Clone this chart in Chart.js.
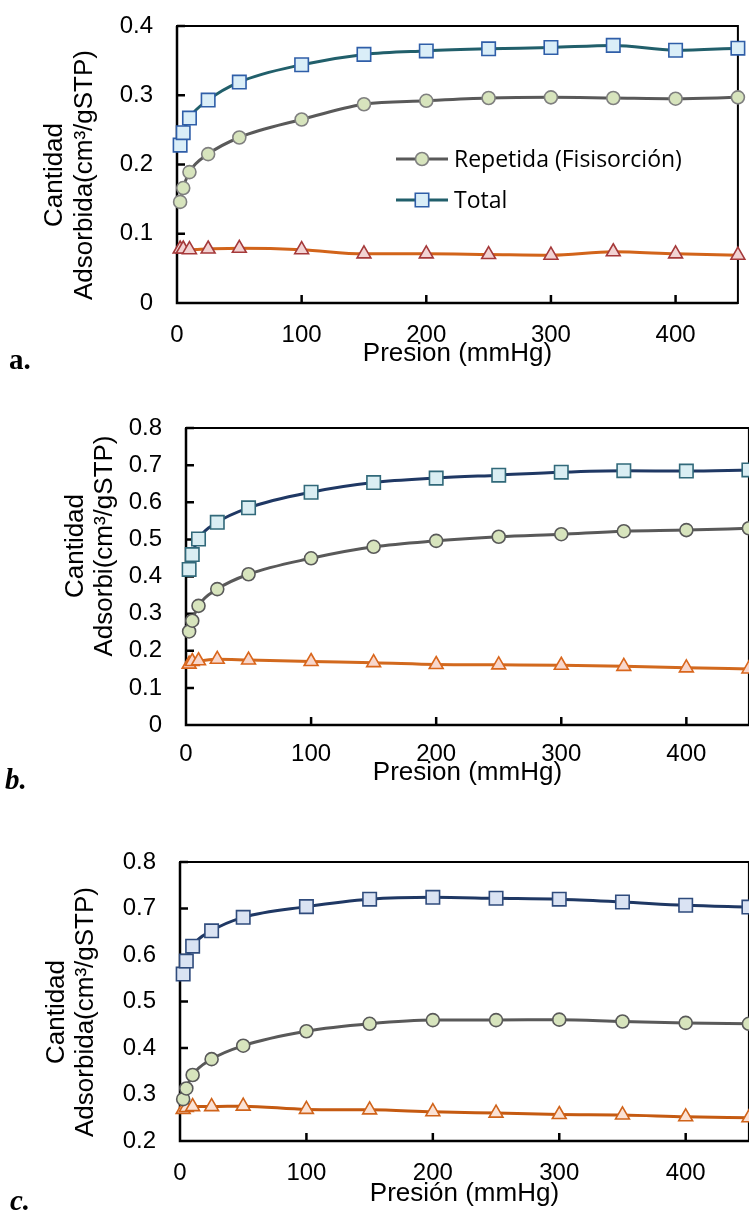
<!DOCTYPE html>
<html>
<head>
<meta charset="utf-8">
<script src="https://cdn.jsdelivr.net/npm/chart.js@4.4.0/dist/chart.umd.min.js"></script>
<style>
  body { margin: 0; background: #fff; overflow: hidden; width: 749px; height: 1213px; position: relative; }
  .panel { position: absolute; left: 0; }
</style>
</head>
<body>
<div class="panel" style="top:0"><canvas id="chartA" width="749" height="380"></canvas></div>
<div class="panel" style="top:390px"><canvas id="chartB" width="760" height="400"></canvas></div>
<div class="panel" style="top:800px"><canvas id="chartC" width="760" height="413"></canvas></div>
<script>
// pressure points (mmHg), same for all three panels
const presion = [2.5, 5, 10, 25, 50, 100, 150, 200, 250, 300, 350, 400, 450];
const xTicks = [0, 100, 200, 300, 400];

// panel a
const repetidaA = [0.146, 0.166, 0.189, 0.215, 0.239, 0.265, 0.287, 0.292, 0.296, 0.297, 0.296, 0.295, 0.297];
const totalA = [0.228, 0.246, 0.267, 0.293, 0.319, 0.344, 0.359, 0.364, 0.367, 0.369, 0.372, 0.365, 0.368];
const quimiA = [0.078, 0.078, 0.077, 0.078, 0.079, 0.077, 0.071, 0.071, 0.070, 0.069, 0.074, 0.071, 0.069];

// panel b
const repetidaB = [0.252, 0.281, 0.321, 0.366, 0.406, 0.449, 0.480, 0.496, 0.507, 0.514, 0.522, 0.525, 0.530];
const totalB = [0.419, 0.459, 0.501, 0.546, 0.585, 0.627, 0.653, 0.665, 0.673, 0.681, 0.685, 0.684, 0.687];
const quimiB = [0.164, 0.171, 0.173, 0.177, 0.175, 0.171, 0.168, 0.163, 0.162, 0.161, 0.158, 0.154, 0.151];

// panel c
const repetidaC = [0.290, 0.313, 0.342, 0.376, 0.405, 0.436, 0.452, 0.460, 0.460, 0.461, 0.457, 0.454, 0.452];
const totalC = [0.559, 0.587, 0.619, 0.652, 0.681, 0.704, 0.720, 0.724, 0.722, 0.720, 0.714, 0.707, 0.703];
const quimiC = [0.268, 0.272, 0.274, 0.274, 0.275, 0.268, 0.267, 0.263, 0.260, 0.257, 0.256, 0.252, 0.250];

const toPoints = ys => ys.map((y, i) => ({ x: presion[i], y: y }));

function series(label, ys, line, style, radius, fill, edge) {
    return {
        label: label,
        data: toPoints(ys),
        borderColor: line,
        borderWidth: 3,
        cubicInterpolationMode: 'monotone',
        pointStyle: style,
        pointRadius: radius,
        pointBackgroundColor: fill,
        pointBorderColor: edge,
        pointBorderWidth: 1.6,
        clip: false
    };
}

// frame, inner ticks, axis titles, legend and panel letter
const excelStyle = {
    id: 'excelStyle',
    beforeDatasetsDraw(chart, args, opts) {
        const ctx = chart.ctx;
        const a = chart.chartArea;
        const xs = chart.scales.x, ys = chart.scales.y;
        ctx.save();
        ctx.strokeStyle = '#000';
        ctx.lineWidth = 2;
        ctx.strokeRect(a.left, a.top, a.right - a.left, a.bottom - a.top);
        ctx.lineWidth = 2.5;
        ctx.beginPath();
        ctx.moveTo(a.left, a.top); ctx.lineTo(a.left, a.bottom); ctx.lineTo(a.right, a.bottom);
        ys.ticks.forEach(t => {
            const y = ys.getPixelForValue(t.value);
            ctx.moveTo(a.left, y); ctx.lineTo(a.left + 8, y);
        });
        xTicks.forEach(v => {
            const x = xs.getPixelForValue(v);
            ctx.moveTo(x, a.bottom); ctx.lineTo(x, a.bottom - 8);
        });
        ctx.stroke();
        ctx.restore();
    },
    afterDraw(chart, args, opts) {
        const ctx = chart.ctx;
        const a = chart.chartArea;
        ctx.save();
        ctx.fillStyle = '#000';
        // y title, two lines
        ctx.font = '26px "Liberation Sans", Arial, sans-serif';
        ctx.textAlign = 'center';
        ctx.textBaseline = 'middle';
        opts.yTitle.forEach((txt, i) => {
            ctx.save();
            ctx.translate(opts.yTitleX[i], opts.yTitleY);
            ctx.rotate(-Math.PI / 2);
            ctx.fillText(txt, 0, 0);
            ctx.restore();
        });
        // x title
        ctx.textBaseline = 'alphabetic';
        ctx.fillText(opts.xTitle, (a.left + a.right) / 2, opts.xTitleY);
        // panel letter
        ctx.textAlign = 'left';
        ctx.font = opts.letterFont;
        ctx.fillText(opts.letter, opts.letterX, opts.letterY);
        // legend (panel a only)
        if (opts.legend) {
            ctx.font = '23px "Open Sans", sans-serif';
            ctx.textBaseline = 'middle';
            opts.legend.forEach(item => {
                const ds = chart.data.datasets[item.index];
                ctx.strokeStyle = ds.borderColor;
                ctx.lineWidth = 3;
                ctx.beginPath();
                ctx.moveTo(item.x, item.y); ctx.lineTo(item.x + 52, item.y);
                ctx.stroke();
                ctx.fillStyle = ds.pointBackgroundColor;
                ctx.strokeStyle = ds.pointBorderColor;
                ctx.lineWidth = ds.pointBorderWidth;
                ctx.beginPath();
                if (ds.pointStyle === 'circle') {
                    ctx.arc(item.x + 26, item.y, ds.pointRadius, 0, Math.PI * 2);
                } else {
                    const s = ds.pointRadius * Math.SQRT1_2;
                    ctx.rect(item.x + 26 - s, item.y - s, 2 * s, 2 * s);
                }
                ctx.fill();
                ctx.stroke();
                ctx.fillStyle = '#000';
                ctx.fillText(ds.label, item.x + 58, item.y + 1);
            });
        }
        ctx.restore();
    }
};

function makeChart(id, datasets, cfg) {
    const tickFont = { family: '"Liberation Sans", Arial, sans-serif', size: 24 };
    return new Chart(document.getElementById(id), {
        type: 'line',
        data: { datasets: datasets },
        options: {
            responsive: false,
            animation: false,
            layout: { padding: { top: cfg.top, right: cfg.right, left: 0, bottom: 0 } },
            plugins: {
                legend: { display: false },
                tooltip: { enabled: false },
                excelStyle: cfg.style
            },
            scales: {
                x: {
                    type: 'linear',
                    min: 0,
                    max: 450,
                    afterBuildTicks: s => { s.ticks = xTicks.map(v => ({ value: v })); },
                    afterFit: s => {
                        s.height = cfg.xHeight;
                        s.paddingLeft = 0;
                        s.paddingRight = 0;
                    },
                    ticks: { font: tickFont, color: '#000', padding: 0, maxRotation: 0, autoSkip: false },
                    // tick marks are drawn inward by the plugin; tickLength only spaces the labels
                    grid: { display: false, drawTicks: true, tickLength: cfg.xPad },
                    border: { display: false }
                },
                y: {
                    min: cfg.yMin,
                    max: cfg.yMax,
                    afterFit: s => {
                        s.width = cfg.yWidth;
                        s.paddingTop = 0;
                        s.paddingBottom = 0;
                    },
                    ticks: { stepSize: 0.1, font: tickFont, color: '#000', padding: 0 },
                    grid: { display: false, drawTicks: true, tickLength: 24 },
                    border: { display: false }
                }
            }
        },
        plugins: [excelStyle]
    });
}

makeChart('chartA', [
    series('Repetida (Fisisorción)', repetidaA, '#595959', 'circle', 6.5, '#d7e4bd', '#7f7f7f'),
    series('Total', totalA, '#215f6b', 'rect', 9.5, '#daeef8', '#2f5ea8'),
    series('Quimisorción', quimiA, '#d2641a', 'triangle', 8, '#f2d3d3', '#a5393a')
], {
    top: 26, right: 1, xHeight: 77, yWidth: 177, yMin: 0, yMax: 0.4, xPad: 18,
    style: {
        yTitle: ['Cantidad', 'Adsorbida(cm³/gSTP)'], yTitleX: [55, 85], yTitleY: 175,
        xTitle: 'Presion (mmHg)', xTitleY: 361,
        letter: 'a.', letterX: 9, letterY: 369, letterFont: 'bold 29px "Liberation Serif", serif',
        legend: [{ index: 0, x: 396, y: 159 }, { index: 1, x: 396, y: 200 }]
    }
});

makeChart('chartB', [
    series('Repetida (Fisisorción)', repetidaB, '#595959', 'circle', 6.5, '#d7e4bd', '#595959'),
    series('Total', totalB, '#1f3864', 'rect', 9.5, '#daeef3', '#31697a'),
    series('Quimisorción', quimiB, '#d2691e', 'triangle', 8, '#f8d7cc', '#d9661c')
], {
    top: 38, right: 3, xHeight: 65, yWidth: 186, yMin: 0, yMax: 0.8, xPad: 15,
    style: {
        yTitle: ['Cantidad', 'Adsorbi(cm³/gSTP)'], yTitleX: [76, 105], yTitleY: 156,
        xTitle: 'Presion (mmHg)', xTitleY: 390,
        letter: 'b.', letterX: 5, letterY: 399, letterFont: 'italic bold 29px "Liberation Serif", serif'
    }
});

makeChart('chartC', [
    series('Repetida (Fisisorción)', repetidaC, '#595959', 'circle', 6.5, '#d7e4bd', '#595959'),
    series('Total', totalC, '#1f3864', 'rect', 9.5, '#dae3f3', '#2f4b7c'),
    series('Quimisorción', quimiC, '#c55a11', 'triangle', 8, '#fbe2d5', '#d0631a')
], {
    top: 62, right: 5, xHeight: 72, yWidth: 180, yMin: 0.2, yMax: 0.8, xPad: 18,
    style: {
        yTitle: ['Cantidad', 'Adsorbida(cm³/gSTP)'], yTitleX: [57, 86], yTitleY: 212,
        xTitle: 'Presión (mmHg)', xTitleY: 401,
        letter: 'c.', letterX: 10, letterY: 410, letterFont: 'italic bold 29px "Liberation Serif", serif'
    }
});
</script>
</body>
</html>
